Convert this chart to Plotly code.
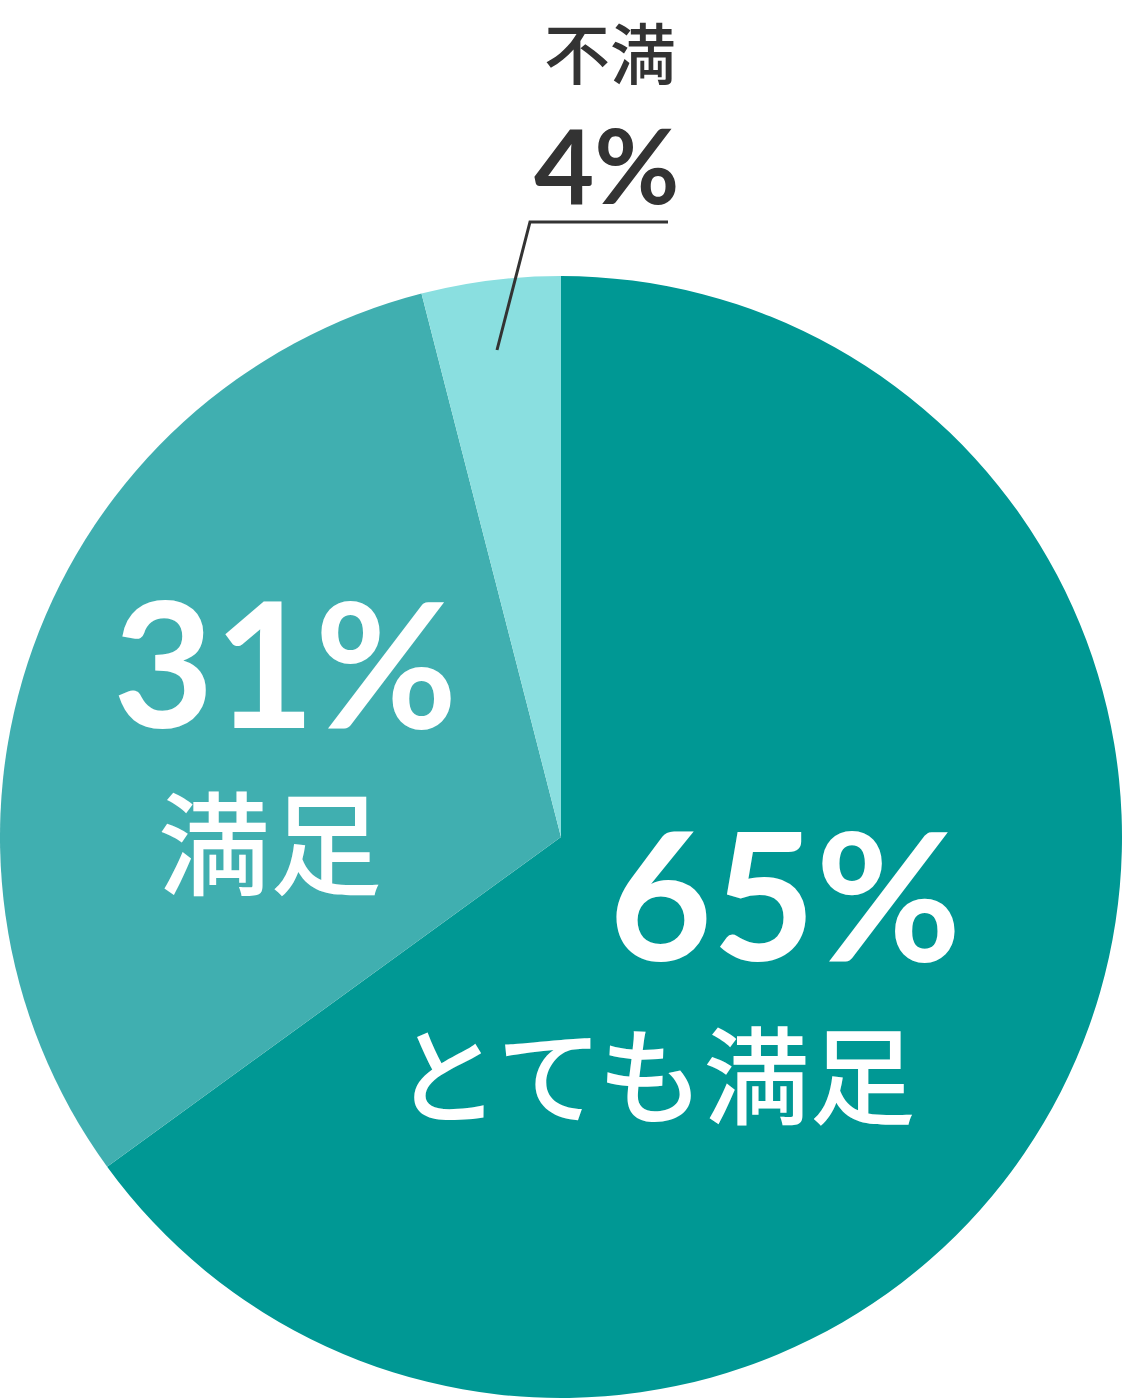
import plotly.graph_objects as go

labels = ["とても満足", "満足", "不満"]
values = [65, 31, 4]
pct_text = ["65%", "31%", "4%"]
colors = ["#009894", "#40AFB0", "#8ADFE0"]

W, H = 1122, 1399

fig = go.Figure(go.Pie(
    labels=labels,
    values=values,
    sort=False,
    direction="clockwise",
    rotation=0,
    textinfo="none",
    hoverinfo="label+percent",
    marker=dict(colors=colors, line=dict(width=0)),
    domain=dict(x=[0, 1], y=[(562 - 561) / H, (562 + 561) / H]),
    showlegend=False,
))

def px(x, y):
    return x / W, 1 - y / H

num_font = "Lato, 'Noto Sans', sans-serif"
jp_font = "'Noto Sans CJK JP', sans-serif"

ann = []
# とても満足
x, y = px(785, 892)
ann.append(dict(x=x, y=y, text=pct_text[0], font=dict(family=num_font, size=178, color="white", weight=700)))
x, y = px(655, 1070)
ann.append(dict(x=x, y=y, text=labels[0], font=dict(family=jp_font, size=106, color="white", weight=500)))
# 満足
x, y = px(285, 660)
ann.append(dict(x=x, y=y, text=pct_text[1], font=dict(family=num_font, size=174, color="white", weight=700)))
x, y = px(270, 838)
ann.append(dict(x=x, y=y, text=labels[1], font=dict(family=jp_font, size=112, color="white", weight=500)))
# 不満
x, y = px(610, 50)
ann.append(dict(x=x, y=y, text=labels[2], font=dict(family=jp_font, size=66, color="#333333", weight=500)))
x, y = px(607, 164)
ann.append(dict(x=x, y=y, text=pct_text[2], font=dict(family=num_font, size=104, color="#333333", weight=700)))

for a in ann:
    a.update(xref="paper", yref="paper", xanchor="center", yanchor="middle", showarrow=False)

x0, y0 = px(497, 350)
x1, y1 = px(530, 222)
x2, y2 = px(668, 222)
shapes = [dict(type="path", xref="paper", yref="paper",
               path=f"M {x0} {y0} L {x1} {y1} L {x2} {y2}",
               line=dict(color="#333333", width=3))]

fig.update_layout(
    width=W, height=H,
    margin=dict(l=0, r=0, t=0, b=0),
    paper_bgcolor="white",
    plot_bgcolor="white",
    annotations=ann,
    shapes=shapes,
)

fig.write_html("out.html", config={"displayModeBar": False},
               post_script="document.body.style.margin='0';")
